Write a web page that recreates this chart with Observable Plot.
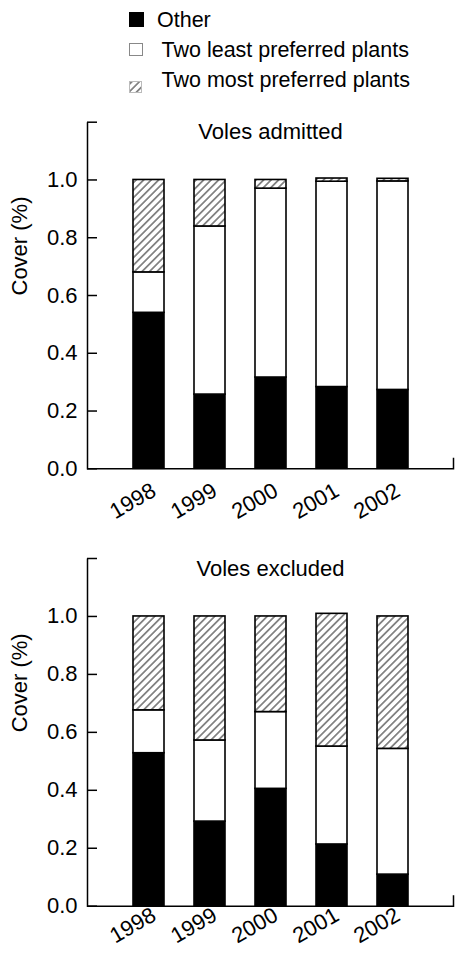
<!DOCTYPE html>
<html><head><meta charset="utf-8">
<script src="https://cdn.jsdelivr.net/npm/d3@7"></script>
<script src="https://cdn.jsdelivr.net/npm/@observablehq/plot@0.6"></script>
<style>
body{margin:0;width:456px;height:955px;position:relative;background:#fff;overflow:hidden;font-family:"Liberation Sans",Arial,Helvetica,sans-serif}
#legend{position:absolute;left:0;top:0}
#top{position:absolute;left:0;top:110px}
#bottom{position:absolute;left:0;top:550px}
svg{overflow:visible}
</style></head><body>
<svg width="0" height="0" style="position:absolute">
  <defs>
    <pattern id="hatch" patternUnits="userSpaceOnUse" width="5.3" height="10" patternTransform="rotate(45)">
      <rect width="5.3" height="10" fill="#fff"/>
      <line x1="2.65" y1="0" x2="2.65" y2="10" stroke="#222" stroke-width="1"/>
    </pattern>
  </defs>
</svg>
<svg id="legend" width="456" height="110"></svg>
<div id="top"></div>
<div id="bottom"></div>
<script>
const years = ["1998", "1999", "2000", "2001", "2002"];
const categories = ["Other", "Two least preferred plants", "Two most preferred plants"];
const admittedOther = [0.540, 0.257, 0.316, 0.283, 0.273];
const admittedLeast = [0.140, 0.582, 0.654, 0.711, 0.722];
const admittedMost  = [0.320, 0.161, 0.030, 0.011, 0.009];
const excludedOther = [0.528, 0.292, 0.405, 0.213, 0.109];
const excludedLeast = [0.148, 0.280, 0.265, 0.338, 0.434];
const excludedMost  = [0.324, 0.428, 0.330, 0.458, 0.457];
const yTickLabels = [0, 0.2, 0.4, 0.6, 0.8, 1.0];
const yTickMarks = [0, 0.2, 0.4, 0.6, 0.8, 1.0, 1.2];
const titles = ["Voles admitted", "Voles excluded"];
const yLabel = "Cover (%)";

const FONT = '"Liberation Sans", Arial, Helvetica, sans-serif';

// Legend
(function legend() {
  const svg = d3.select("#legend");
  const fills = ["#000", "#fff", "url(#hatch)"];
  const sw = [{x:129,y:12,w:15,h:15,s:"none"},{x:129.5,y:43.5,w:13,h:12,s:"#888"},{x:129.5,y:81.5,w:12,h:11,s:"#bbb"}];
  const tx = [157, 161.5, 161.5];
  const base = [27, 56.5, 86.5];
  categories.forEach((c, i) => {
    svg.append("rect").attr("x", sw[i].x).attr("y", sw[i].y).attr("width", sw[i].w).attr("height", sw[i].h)
      .attr("fill", fills[i]).attr("stroke", sw[i].s).attr("stroke-width", 1);
    svg.append("text").attr("x", tx[i]).attr("y", base[i]).attr("font-family", FONT).attr("font-size", 21.5)
      .attr("fill", "#000").text(c);
  });
})();

function chart(title, other, least, most, height, mt, mb, labelPad) {
  const rows = [];
  years.forEach((y, i) => {
    rows.push({year: y, cat: categories[0], value: other[i]});
    rows.push({year: y, cat: categories[1], value: least[i]});
    rows.push({year: y, cat: categories[2], value: most[i]});
  });
  const W = 456 - 87 - 3;
  const H = height - mt - mb;
  return Plot.plot({
    width: 456, height,
    marginLeft: 87, marginRight: 3, marginTop: mt, marginBottom: mb,
    style: {fontFamily: FONT, fontSize: "22px", color: "#000", background: "transparent", overflow: "visible"},
    x: {type: "band", domain: years, paddingInner: 0.5, paddingOuter: 0.75, label: null, axis: null},
    y: {domain: [0, 1.2], label: null, axis: null},
    color: {domain: categories, range: ["#000", "#fff", "url(#hatch)"]},
    marks: [
      Plot.barY(rows, {x: "year", y: "value", fill: "cat", stroke: "#000", strokeWidth: 1.6}),
      Plot.frame({stroke: "#000", strokeWidth: 1.5, fill: "none",
        strokeDasharray: `0,${W + H - 11},${W + H + 11}`}),
      Plot.tickY(yTickMarks, {y: d => d, insetRight: W - 10, stroke: "#000", strokeWidth: 1.5}),
      Plot.axisY({ticks: yTickLabels, tickFormat: d3.format(".1f"), tickSize: 0, tickPadding: 10, label: null, fontSize: 22}),
      Plot.axisX({tickSize: 0, tickRotate: -30, tickPadding: labelPad, dx: 5, label: null, fontSize: 22}),
      Plot.text([title], {frameAnchor: "top", dy: 17, lineAnchor: "bottom", fontSize: 22, fill: "#000"}),
      Plot.text([yLabel], {frameAnchor: "left", rotate: -90, dx: -68, lineAnchor: "middle", fontSize: 22, fill: "#000"})
    ]
  });
}

document.getElementById("top").append(chart(titles[0], admittedOther, admittedLeast, admittedMost, 440, 11.7, 81.7, 20));
document.getElementById("bottom").append(chart(titles[1], excludedOther, excludedLeast, excludedMost, 405, 8, 49.3, 7));
</script>
</body></html>
